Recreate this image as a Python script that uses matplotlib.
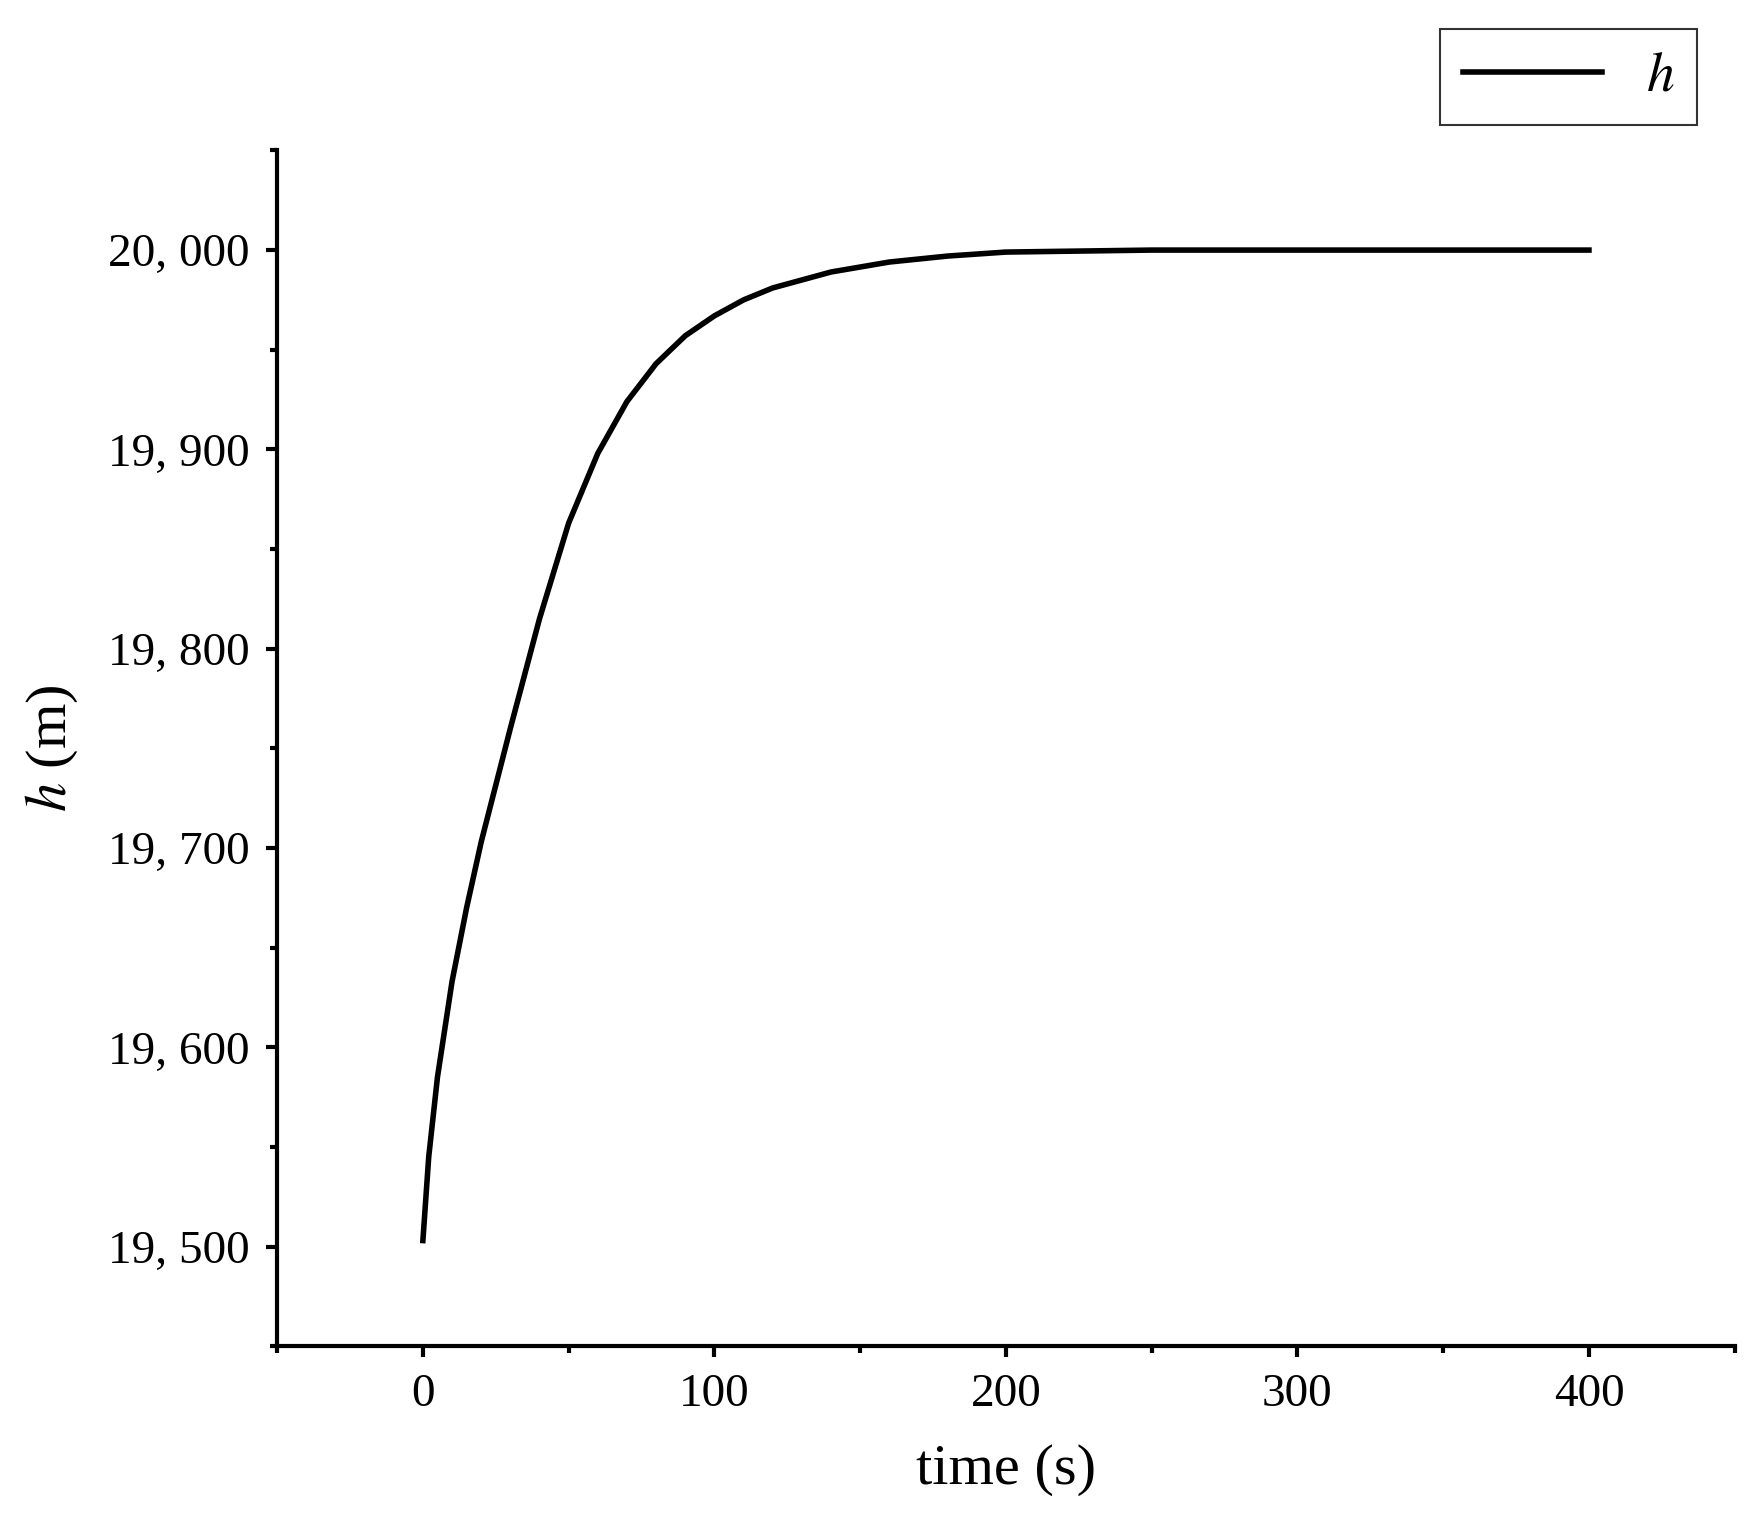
import matplotlib
matplotlib.use("Agg")
import matplotlib.pyplot as plt
from matplotlib.ticker import FuncFormatter, MultipleLocator

t = [0, 2, 5, 10, 15, 20, 30, 40, 50, 60, 70, 80, 90, 100, 110, 120, 140, 160, 180, 200, 250, 300, 350, 400]
h = [19503, 19545, 19585, 19633, 19670, 19703, 19760, 19815, 19863, 19898, 19924, 19943, 19957, 19967, 19975, 19981, 19989, 19994, 19997, 19999, 20000, 20000, 20000, 20000]

plt.rcParams['font.family'] = ['Liberation Serif', 'DejaVu Serif']
plt.rcParams['mathtext.fontset'] = 'stix'
fig = plt.figure(figsize=(17.54, 15.35), dpi=100)
ax = fig.add_axes([0.158, 0.123, 0.831, 0.779])
ax.plot(t, h, color='black', lw=4, label='$h$')
ax.set_xlim(-50, 450)
ax.set_ylim(19450, 20050)
ax.xaxis.set_major_locator(MultipleLocator(100))
ax.xaxis.set_minor_locator(MultipleLocator(50))
ax.yaxis.set_major_locator(MultipleLocator(100))
ax.yaxis.set_minor_locator(MultipleLocator(50))
ax.yaxis.set_major_formatter(FuncFormatter(lambda v, p: f"{int(v)//1000}, {int(v)%1000:03d}"))
for s in ['top', 'right']:
    ax.spines[s].set_visible(False)
for s in ['left', 'bottom']:
    ax.spines[s].set_linewidth(3)
ax.tick_params(which='major', direction='out', length=8, width=3, labelsize=34, pad=12)
ax.tick_params(which='minor', direction='out', length=5, width=3)
ax.set_xlabel('time (s)', fontsize=42, labelpad=20)
ax.set_ylabel('$h$ (m)', fontsize=42, labelpad=20)
leg = ax.legend(loc='upper right', bbox_to_anchor=(0.993, 1.125), fontsize=40, fancybox=False,
                edgecolor='black', handlelength=2.5, borderpad=0.4)
leg.get_frame().set_linewidth(1.5)
fig.savefig('out.png', dpi=100)
